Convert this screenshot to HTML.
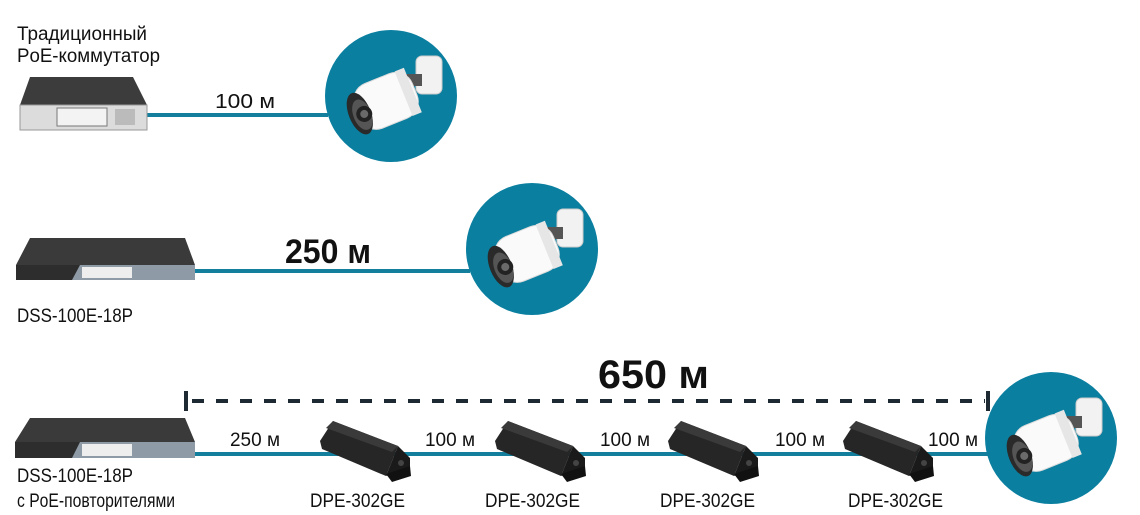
<!DOCTYPE html>
<html><head><meta charset="utf-8"><style>
html,body{margin:0;padding:0;background:#fff}
svg{display:block}
text{font-family:"Liberation Sans",sans-serif;fill:#111}
</style></head><body>
<svg width="1140" height="515" viewBox="0 0 1140 515" xmlns="http://www.w3.org/2000/svg">
<defs>
<g id="cam">
  <rect x="18" y="-40" width="26" height="38" rx="6" fill="#f2f2f2" stroke="#ccc" stroke-width="1"/>
  <rect x="8" y="-22" width="16" height="12" fill="#555"/>
  <g transform="rotate(-22)">
    <rect x="-44" y="-24" width="62" height="48" rx="18" fill="#fafafa" stroke="#ddd"/>
    <rect x="6" y="-24" width="10" height="48" fill="#e6e6e6"/>
    <ellipse cx="-42" cy="2" rx="11" ry="22" fill="#2a2a2a"/>
    <ellipse cx="-40" cy="4" rx="9" ry="16" fill="#555"/>
    <circle cx="-38" cy="4" r="8" fill="#222"/>
    <circle cx="-38" cy="4" r="4" fill="#6a6a6a"/>
  </g>
</g>
<g id="rep">
  <polygon points="333,421 398,446 386,476 322,449 320,441" fill="#262626"/>
  <polygon points="333,421 398,446 392,452 326,428" fill="#3a3a3a"/>
  <polygon points="398,446 410,458 410,470 386,476" fill="#1a1a1a"/>
  <circle cx="401" cy="463" r="3" fill="#444"/>
  <polygon points="386,474 410,466 411,476 392,482" fill="#111"/>
</g>
</defs>

<!-- Row 1 -->
<rect x="143" y="113" width="185" height="4" fill="#147f9c"/>
<polygon points="30,77 133,77 147,105 20,105" fill="#3c3c3c"/>
<rect x="20" y="105" width="127" height="25" fill="#dcdcdc" stroke="#999"/>
<rect x="57" y="108" width="50" height="18" fill="#f3f3f3" stroke="#777"/>
<rect x="115" y="109" width="20" height="16" fill="#bbb"/>
<text x="17" y="40" font-size="19" textLength="130" lengthAdjust="spacingAndGlyphs">Традиционный</text>
<text x="17" y="62" font-size="19" textLength="143" lengthAdjust="spacingAndGlyphs">PoE-коммутатор</text>
<text x="215" y="108" font-size="20" textLength="60" lengthAdjust="spacingAndGlyphs">100 м</text>
<circle cx="391" cy="96" r="66" fill="#0b7fa0"/>
<use href="#cam" transform="translate(398,96)"/>

<!-- Row 2 -->
<rect x="190" y="269" width="280" height="4" fill="#147f9c"/>
<polygon points="30,238 185,238 195,265 16,265" fill="#3a3a3a"/>
<rect x="16" y="265" width="179" height="15" fill="#2d2d2d"/>
<polygon points="80,265 195,265 195,280 72,280" fill="#8e9aa6"/>
<rect x="82" y="267" width="50" height="11" fill="#eee"/>
<text x="285" y="263" font-size="34" font-weight="bold" textLength="86" lengthAdjust="spacingAndGlyphs">250 м</text>
<text x="17" y="322" font-size="19" textLength="116" lengthAdjust="spacingAndGlyphs">DSS-100E-18P</text>
<circle cx="532" cy="249" r="66" fill="#0b7fa0"/>
<use href="#cam" transform="translate(539,249)"/>

<!-- Row 3 -->
<line x1="192" y1="401" x2="985" y2="401" stroke="#1e2a33" stroke-width="4" stroke-dasharray="12,12"/>
<rect x="184" y="391" width="4" height="20" fill="#1e2a33"/>
<rect x="986" y="391" width="4" height="20" fill="#1e2a33"/>
<text x="598" y="388" font-size="40" font-weight="bold" textLength="111" lengthAdjust="spacingAndGlyphs">650 м</text>
<rect x="190" y="452" width="800" height="4" fill="#147f9c"/>
<polygon points="30,418 185,418 195,442 15,442" fill="#3a3a3a"/>
<rect x="15" y="442" width="180" height="16" fill="#2d2d2d"/>
<polygon points="80,442 195,442 195,458 72,458" fill="#8e9aa6"/>
<rect x="82" y="444" width="50" height="12" fill="#eee"/>
<text x="17" y="482" font-size="19" textLength="116" lengthAdjust="spacingAndGlyphs">DSS-100E-18P</text>
<text x="17" y="507" font-size="19" textLength="158" lengthAdjust="spacingAndGlyphs">с PoE-повторителями</text>
<text x="230" y="446" font-size="19" textLength="50" lengthAdjust="spacingAndGlyphs">250 м</text>
<text x="425" y="446" font-size="19" textLength="50" lengthAdjust="spacingAndGlyphs">100 м</text>
<text x="600" y="446" font-size="19" textLength="50" lengthAdjust="spacingAndGlyphs">100 м</text>
<text x="775" y="446" font-size="19" textLength="50" lengthAdjust="spacingAndGlyphs">100 м</text>
<text x="928" y="446" font-size="19" textLength="50" lengthAdjust="spacingAndGlyphs">100 м</text>
<use href="#rep"/>
<use href="#rep" transform="translate(175,0)"/>
<use href="#rep" transform="translate(348,0)"/>
<use href="#rep" transform="translate(523,0)"/>
<text x="310" y="507" font-size="19" textLength="95" lengthAdjust="spacingAndGlyphs">DPE-302GE</text>
<text x="485" y="507" font-size="19" textLength="95" lengthAdjust="spacingAndGlyphs">DPE-302GE</text>
<text x="660" y="507" font-size="19" textLength="95" lengthAdjust="spacingAndGlyphs">DPE-302GE</text>
<text x="848" y="507" font-size="19" textLength="95" lengthAdjust="spacingAndGlyphs">DPE-302GE</text>
<circle cx="1051" cy="438" r="66" fill="#0b7fa0"/>
<use href="#cam" transform="translate(1058,438)"/>
</svg>
</body></html>
